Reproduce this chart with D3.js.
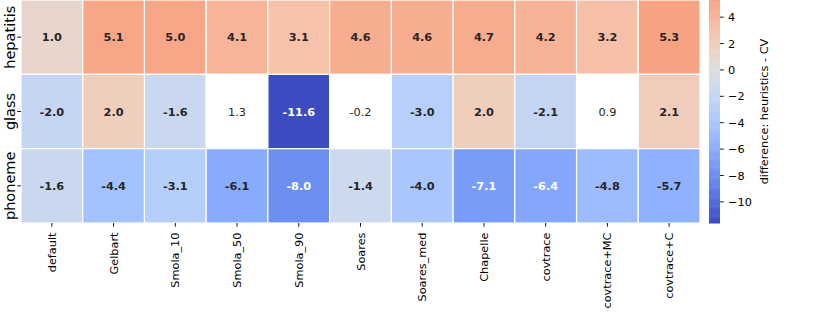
<!DOCTYPE html>
<html><head><meta charset="utf-8">
<script src="https://cdn.jsdelivr.net/npm/d3@7"></script>
<style>
html,body{margin:0;padding:0;background:#fff;}
svg{display:block;font-family:"DejaVu Sans",sans-serif;}
</style></head>
<body><svg id="c" width="830" height="312"></svg>
<script>
const rows = ["hepatitis", "glass", "phoneme"];
const cols = ["default", "Gelbart", "Smola_10", "Smola_50", "Smola_90", "Soares", "Soares_med", "Chapelle", "covtrace", "covtrace+MC", "covtrace+C"];
const hepatitis = [1.0, 5.1, 5.0, 4.1, 3.1, 4.6, 4.6, 4.7, 4.2, 3.2, 5.3];
const glass = [-2.0, 2.0, -1.6, 1.3, -11.6, -0.2, -3.0, 2.0, -2.1, 0.9, 2.1];
const phoneme = [-1.6, -4.4, -3.1, -6.1, -8.0, -1.4, -4.0, -7.1, -6.4, -4.8, -5.7];
const hepatitisSig = [1,1,1,1,1,1,1,1,1,1,1];
const glassSig = [1,1,1,0,1,0,1,1,1,0,1];
const phonemeSig = [1,1,1,1,1,1,1,1,1,1,1];
const cbTicks = [-10, -8, -6, -4, -2, 0, 2, 4];
const cbLabel = "difference: heuristics - CV";

const series = {hepatitis, glass, phoneme};
const sig = {hepatitis: hepatitisSig, glass: glassSig, phoneme: phonemeSig};

// matplotlib coolwarm (Moreland) control points
const cw = [[59,76,192],[68,90,204],[77,104,215],[87,117,225],[98,130,234],[108,142,241],[119,154,247],[130,165,251],[141,176,254],[152,185,255],[163,194,255],[174,201,253],[184,208,249],[194,213,244],[204,217,238],[213,219,230],[221,221,221],[229,216,209],[236,211,197],[241,204,185],[245,196,173],[247,187,160],[247,177,148],[247,166,135],[244,154,123],[241,141,111],[236,127,99],[229,112,88],[222,96,77],[213,80,66],[203,62,56],[192,40,47],[180,4,38]];
function coolwarm(t){
  t = Math.max(0, Math.min(1, t));
  const p = t * (cw.length - 1), i = Math.min(cw.length - 2, Math.floor(p)), f = p - i;
  return cw[i].map((v, k) => v + (cw[i+1][k] - v) * f);
}
const all = [].concat(hepatitis, glass, phoneme);
const vmin = d3.min(all), vmax = d3.max(all);
const vr = Math.max(vmax, -vmin);
const norm = d3.scaleLinear().domain([-vr, vr]).range([0, 1]);
function colorArr(v){ return coolwarm(norm(v)); }
function color(v){ const c = colorArr(v); return `rgb(${c.map(Math.round).join(",")})`; }
function lum(c){
  const l = c.map(v => { v /= 255; return v <= 0.03928 ? v / 12.92 : Math.pow((v + 0.055) / 1.055, 2.4); });
  return 0.2126 * l[0] + 0.7152 * l[1] + 0.0722 * l[2];
}

const FS = 11.3;
const svg = d3.select("#c");
const L = 21, R = 700, T = 0, B = 223;
const x = d3.scaleBand().domain(cols).range([L, R]);
const y = d3.scaleBand().domain(rows).range([T, B]);

const cells = [];
rows.forEach(r => cols.forEach((c, j) => cells.push({r, c, v: series[r][j], s: sig[r][j]})));

svg.append("g").selectAll("rect").data(cells).join("rect")
  .attr("x", d => x(d.c)).attr("y", d => y(d.r))
  .attr("width", x.bandwidth()).attr("height", y.bandwidth())
  .attr("fill", d => d.s ? color(d.v) : "#ffffff")
  .attr("stroke", "#fff").attr("stroke-width", 1.2);

svg.append("g").selectAll("text").data(cells).join("text")
  .attr("x", d => x(d.c) + x.bandwidth() / 2)
  .attr("y", d => y(d.r) + y.bandwidth() / 2)
  .attr("dy", "0.36em")
  .attr("text-anchor", "middle")
  .attr("font-size", FS)
  .attr("font-weight", d => d.s ? "bold" : "normal")
  .attr("fill", d => (!d.s || lum(colorArr(d.v)) > 0.408) ? "#262626" : "#ffffff")
  .text(d => d.v.toFixed(1));

// y axis ticks
const yt = svg.append("g");
rows.forEach(r => {
  const cy = y(r) + y.bandwidth() / 2;
  yt.append("line").attr("x1", L - 3.8).attr("x2", L).attr("y1", cy).attr("y2", cy).attr("stroke", "#000").attr("stroke-width", 0.9);
  yt.append("text").attr("transform", `translate(${L - 6.5},${cy}) rotate(-90)`)
    .attr("text-anchor", "middle").attr("font-size", 14.5).attr("fill", "#000").text(r);
});
// x axis ticks
const xt = svg.append("g");
cols.forEach(c => {
  const cx = x(c) + x.bandwidth() / 2;
  xt.append("line").attr("x1", cx).attr("x2", cx).attr("y1", B).attr("y2", B + 3.8).attr("stroke", "#000").attr("stroke-width", 0.9);
  xt.append("text").attr("transform", `translate(${cx},${B + 9.5}) rotate(-90)`)
    .attr("text-anchor", "end").attr("dy", "0.36em").attr("font-size", FS).attr("fill", "#000").text(c);
});

// colorbar
const cbX = 709, cbW = 11;
const cy = d3.scaleLinear().domain([vmin, vmax]).range([B, T]);
const N = 200;
const cb = svg.append("g");
const stepV = (vmax - vmin) / N;
const steps = d3.range(N).map(i => vmin + stepV * i);
cb.selectAll("rect").data(steps).join("rect")
  .attr("x", cbX).attr("width", cbW)
  .attr("y", d => cy(d + stepV))
  .attr("height", d => cy(d) - cy(d + stepV) + 0.5)
  .attr("fill", d => color(d + stepV / 2));
cbTicks.forEach(t => {
  const ty = cy(t);
  cb.append("line").attr("x1", cbX + cbW).attr("x2", cbX + cbW + 3.8).attr("y1", ty).attr("y2", ty).attr("stroke", "#000").attr("stroke-width", 0.9);
  cb.append("text").attr("x", cbX + cbW + 8).attr("y", ty).attr("dy", "0.36em")
    .attr("font-size", FS).attr("fill", "#000").text(t < 0 ? "\u2212" + Math.abs(t) : String(t));
});
cb.append("text").attr("transform", `translate(${768},${(T + B) / 2}) rotate(-90)`)
  .attr("text-anchor", "middle").attr("font-size", FS).attr("fill", "#000").text(cbLabel);
</script></body></html>
